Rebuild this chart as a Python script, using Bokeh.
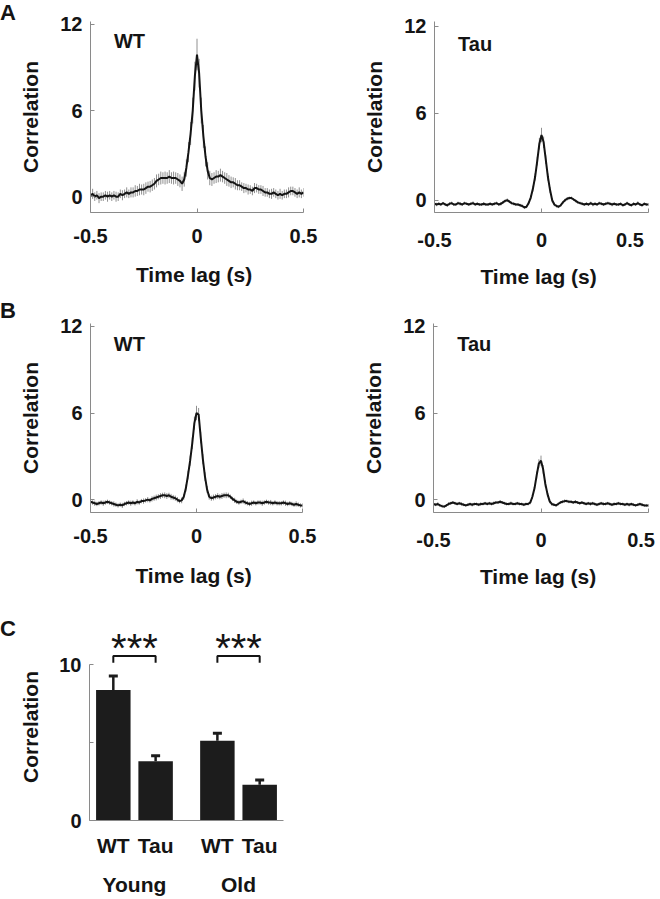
from bokeh.plotting import figure
from bokeh.layouts import column, row
from bokeh.models import FixedTicker, Label, FactorRange, ColumnDataSource, Range1d, Div
from bokeh.embed import file_html
from bokeh.resources import INLINE
from bokeh.core.properties import value

# ---------------- data ----------------
lags = [round(-0.5 + 0.01 * i, 2) for i in range(101)]  # time lag (s)

young_wt_corr = [
    0.1, 0.2, 0.0, 0.1, -0.1, 0.0, 0.0, 0.1, 0.0, 0.1,
    0.0, 0.1, 0.0, 0.0, 0.2, 0.1, 0.2, 0.3, 0.2, 0.3,
    0.3, 0.4, 0.4, 0.5, 0.5, 0.5, 0.6, 0.7, 0.7, 0.8,
    0.9, 1.1, 1.2, 1.3, 1.3, 1.3, 1.3, 1.4, 1.3, 1.3,
    1.3, 1.2, 1.1, 0.9, 1.2, 2.0, 3.1, 4.4, 6.0, 8.4,
    9.9, 8.6, 6.0, 4.2, 2.8, 1.8, 1.3, 1.2, 1.3, 1.4,
    1.4, 1.5, 1.4, 1.3, 1.2, 1.1, 1.0, 1.0, 0.9, 0.8,
    0.8, 0.7, 0.6, 0.6, 0.5, 0.5, 0.4, 0.6, 0.6, 0.5,
    0.5, 0.4, 0.3, 0.3, 0.2, 0.2, 0.3, 0.2, 0.1, 0.2,
    0.1, 0.2, 0.2, 0.3, 0.4, 0.4, 0.3, 0.2, 0.3, 0.2,
    0.3]
young_wt_sem = [
    0.3, 0.35, 0.3, 0.3, 0.35, 0.3, 0.3, 0.3, 0.35, 0.3,
    0.3, 0.3, 0.35, 0.3, 0.3, 0.35, 0.3, 0.35, 0.3, 0.35,
    0.35, 0.4, 0.35, 0.4, 0.35, 0.4, 0.4, 0.35, 0.4, 0.4,
    0.4, 0.45, 0.4, 0.45, 0.4, 0.45, 0.4, 0.45, 0.4, 0.45,
    0.4, 0.45, 0.45, 0.5, 0.5, 0.6, 0.7, 0.8, 0.9, 1.0,
    1.1, 1.0, 0.9, 0.8, 0.7, 0.6, 0.5, 0.45, 0.4, 0.45,
    0.4, 0.45, 0.4, 0.4, 0.45, 0.4, 0.4, 0.35, 0.4, 0.35,
    0.35, 0.3, 0.35, 0.3, 0.35, 0.3, 0.3, 0.35, 0.3, 0.3,
    0.3, 0.35, 0.3, 0.3, 0.3, 0.35, 0.3, 0.3, 0.3, 0.35,
    0.3, 0.3, 0.3, 0.35, 0.3, 0.3, 0.3, 0.3, 0.35, 0.3,
    0.3]

young_tau_corr = [
    -0.25, -0.3, -0.25, -0.3, -0.2, -0.3, -0.35, -0.25, -0.2, -0.3,
    -0.3, -0.2, -0.25, -0.3, -0.2, -0.25, -0.3, -0.25, -0.2, -0.3,
    -0.25, -0.3, -0.3, -0.25, -0.3, -0.3, -0.25, -0.3, -0.25, -0.2,
    -0.3, -0.25, -0.15, -0.05, 0.0, -0.1, -0.2, -0.25, -0.3, -0.3,
    -0.35, -0.4, -0.5, -0.45, -0.2, 0.2, 0.8, 1.6, 2.7, 3.9,
    4.5, 4.0, 2.8, 1.6, 0.7, 0.0, -0.3, -0.4, -0.45, -0.35,
    -0.15, 0.0, 0.1, 0.15, 0.15, 0.05, -0.05, -0.15, -0.2, -0.25,
    -0.3, -0.25, -0.3, -0.2, -0.3, -0.25, -0.3, -0.2, -0.25, -0.3,
    -0.25, -0.2, -0.25, -0.3, -0.25, -0.3, -0.3, -0.25, -0.35, -0.3,
    -0.2, -0.3, -0.35, -0.25, -0.3, -0.2, -0.3, -0.35, -0.25, -0.3,
    -0.3]
young_tau_sem = [
    0.1, 0.12, 0.1, 0.1, 0.08, 0.1, 0.12, 0.1, 0.1, 0.1,
    0.1, 0.1, 0.12, 0.1, 0.1, 0.08, 0.1, 0.1, 0.12, 0.1,
    0.1, 0.1, 0.1, 0.12, 0.1, 0.1, 0.1, 0.08, 0.1, 0.1,
    0.1, 0.12, 0.1, 0.1, 0.12, 0.1, 0.1, 0.1, 0.1, 0.1,
    0.1, 0.1, 0.1, 0.1, 0.12, 0.15, 0.2, 0.25, 0.3, 0.4,
    0.5, 0.4, 0.3, 0.25, 0.2, 0.15, 0.12, 0.1, 0.1, 0.1,
    0.1, 0.1, 0.12, 0.1, 0.1, 0.1, 0.1, 0.1, 0.1, 0.1,
    0.1, 0.1, 0.1, 0.1, 0.12, 0.1, 0.1, 0.1, 0.1, 0.1,
    0.1, 0.1, 0.1, 0.12, 0.1, 0.1, 0.1, 0.1, 0.1, 0.1,
    0.1, 0.1, 0.1, 0.1, 0.1, 0.12, 0.1, 0.1, 0.1, 0.1,
    0.1]

old_wt_corr = [
    -0.15, -0.2, -0.25, -0.3, -0.25, -0.2, -0.25, -0.2, -0.15, -0.2,
    -0.25, -0.3, -0.35, -0.4, -0.35, -0.4, -0.3, -0.25, -0.2, -0.25,
    -0.2, -0.25, -0.15, -0.2, -0.1, -0.1, -0.05, 0.0, -0.05, 0.05,
    0.1, 0.15, 0.2, 0.25, 0.3, 0.3, 0.25, 0.3, 0.2, 0.15,
    0.1, 0.0, -0.1, -0.05, 0.2, 0.8, 1.7, 2.7, 3.9, 5.3,
    6.0, 5.9, 4.3, 2.8, 1.6, 0.7, 0.2, 0.1, 0.15, 0.2,
    0.25, 0.2, 0.25, 0.3, 0.3, 0.3, 0.2, 0.05, -0.05, -0.15,
    -0.2, -0.15, -0.1, -0.2, -0.25, -0.3, -0.25, -0.2, -0.25, -0.2,
    -0.2, -0.25, -0.2, -0.15, -0.2, -0.2, -0.25, -0.2, -0.25, -0.25,
    -0.25, -0.2, -0.25, -0.3, -0.25, -0.3, -0.35, -0.3, -0.35, -0.4,
    -0.4]
old_wt_sem = [
    0.15, 0.15, 0.18, 0.15, 0.15, 0.15, 0.18, 0.15, 0.15, 0.15,
    0.15, 0.18, 0.15, 0.15, 0.15, 0.18, 0.15, 0.15, 0.15, 0.18,
    0.15, 0.15, 0.18, 0.15, 0.15, 0.18, 0.15, 0.18, 0.15, 0.18,
    0.18, 0.2, 0.18, 0.2, 0.18, 0.2, 0.2, 0.18, 0.2, 0.18,
    0.18, 0.18, 0.15, 0.2, 0.2, 0.25, 0.3, 0.35, 0.4, 0.45,
    0.5, 0.45, 0.4, 0.35, 0.3, 0.25, 0.2, 0.18, 0.2, 0.18,
    0.2, 0.18, 0.2, 0.18, 0.2, 0.18, 0.15, 0.15, 0.18, 0.15,
    0.15, 0.15, 0.18, 0.15, 0.15, 0.15, 0.18, 0.15, 0.15, 0.15,
    0.15, 0.18, 0.15, 0.15, 0.15, 0.18, 0.15, 0.15, 0.15, 0.15,
    0.15, 0.15, 0.18, 0.15, 0.15, 0.15, 0.15, 0.18, 0.15, 0.15,
    0.15]

old_tau_corr = [
    -0.3, -0.35, -0.3, -0.4, -0.45, -0.48, -0.4, -0.3, -0.25, -0.2,
    -0.25, -0.3, -0.25, -0.3, -0.35, -0.4, -0.35, -0.3, -0.35, -0.3,
    -0.3, -0.35, -0.3, -0.3, -0.25, -0.3, -0.25, -0.3, -0.25, -0.2,
    -0.2, -0.15, -0.2, -0.25, -0.3, -0.3, -0.25, -0.3, -0.3, -0.25,
    -0.3, -0.3, -0.35, -0.3, -0.3, -0.2, 0.2, 0.8, 1.7, 2.5,
    2.7, 2.1, 1.1, 0.4, -0.1, -0.3, -0.35, -0.4, -0.3, -0.2,
    -0.15, -0.1, -0.1, -0.15, -0.15, -0.2, -0.15, -0.2, -0.25, -0.2,
    -0.25, -0.3, -0.25, -0.3, -0.25, -0.3, -0.35, -0.3, -0.25, -0.3,
    -0.3, -0.25, -0.3, -0.35, -0.3, -0.3, -0.25, -0.3, -0.3, -0.35,
    -0.3, -0.35, -0.3, -0.35, -0.4, -0.35, -0.3, -0.35, -0.4, -0.4,
    -0.4]
old_tau_sem = [
    0.1, 0.1, 0.12, 0.1, 0.1, 0.1, 0.1, 0.12, 0.1, 0.1,
    0.1, 0.1, 0.1, 0.12, 0.1, 0.1, 0.1, 0.1, 0.12, 0.1,
    0.1, 0.1, 0.12, 0.1, 0.1, 0.1, 0.1, 0.1, 0.12, 0.1,
    0.1, 0.12, 0.1, 0.1, 0.1, 0.1, 0.12, 0.1, 0.1, 0.1,
    0.1, 0.1, 0.1, 0.1, 0.1, 0.12, 0.15, 0.2, 0.25, 0.3,
    0.35, 0.3, 0.25, 0.2, 0.15, 0.12, 0.1, 0.1, 0.1, 0.1,
    0.1, 0.12, 0.1, 0.1, 0.1, 0.1, 0.12, 0.1, 0.1, 0.1,
    0.1, 0.1, 0.1, 0.12, 0.1, 0.1, 0.1, 0.1, 0.1, 0.12,
    0.1, 0.1, 0.1, 0.1, 0.12, 0.1, 0.1, 0.1, 0.1, 0.1,
    0.1, 0.12, 0.1, 0.1, 0.1, 0.1, 0.1, 0.12, 0.1, 0.1,
    0.1]

time_ticks = [-0.5, 0, 0.5]
corr_ticks = [0, 6, 12]

bar_groups = ["Young", "Young", "Old", "Old"]
bar_genotypes = ["WT", "Tau", "WT", "Tau"]
bar_means = [8.37, 3.8, 5.12, 2.29]
bar_sems = [0.91, 0.35, 0.48, 0.31]
bar_ticks = [0, 5, 10]
sig_groups = ["Young", "Old"]
sig_text = ["***", "***"]

FONT = "Liberation Sans"
INK = "#141414"
AXIS = "#8a8a8a"
NBSP = "\u00a0"
LETTER_W = 16


def style(p):
    p.grid.visible = False
    p.outline_line_color = None
    p.background_fill_color = "white"
    p.border_fill_color = "white"
    for ax in p.axis:
        ax.axis_line_color = AXIS
        ax.axis_line_width = 1
        ax.major_tick_line_color = AXIS
        ax.major_tick_in = 4
        ax.major_tick_out = 0
        ax.minor_tick_line_color = None
        ax.major_label_text_font = FONT
        ax.major_label_text_font_style = "bold"
        ax.major_label_text_font_size = "20px"
        ax.major_label_text_color = INK
        ax.axis_label_text_font = FONT
        ax.axis_label_text_font_style = "bold"
        ax.axis_label_text_font_size = "21px"
        ax.axis_label_text_color = INK


def letter_div(text, h, top_gap, w=LETTER_W):
    """Narrow strip that carries a panel letter (A, B, C)."""
    return Div(text=text, width=w, height=h, margin=(0, 0, 0, 0),
               styles={"font-family": FONT, "font-weight": "bold", "font-size": "22px",
                       "line-height": "22px", "color": INK, "padding-top": f"{top_gap}px",
                       "overflow": "visible"})


def corr_panel(corr, sem, name, yr, w, h, bl, br, bt, bb, title_gap, right_pad=0):
    p = figure(width=w, height=h, x_range=Range1d(-0.5, 0.5), y_range=Range1d(*yr), title=None,
               output_backend="svg", toolbar_location=None,
               min_border_left=bl, min_border_right=br, min_border_top=bt, min_border_bottom=bb)
    lower = [c - s for c, s in zip(corr, sem)]
    upper = [c + s for c, s in zip(corr, sem)]
    p.segment(x0=lags, y0=lower, x1=lags, y1=upper, line_color="#909090", line_width=1)
    p.line(lags, corr, line_color=INK, line_width=2)
    style(p)
    p.xaxis.ticker = FixedTicker(ticks=time_ticks)
    p.yaxis.ticker = FixedTicker(ticks=corr_ticks)
    p.xaxis.major_label_overrides = {-0.5: "-0.5", 0: "0", 0.5: "0.5" + NBSP * right_pad}
    p.xaxis.major_label_standoff = 16
    p.yaxis.major_label_standoff = 8
    p.xaxis.axis_label_standoff = title_gap
    p.yaxis.axis_label_standoff = 15
    p.yaxis.axis_label_text_line_height = 0.8
    p.xaxis.axis_label = "Time  lag (s)"
    p.yaxis.axis_label = "Correlation"
    p.add_layout(Label(x=-0.39, y=10.05, text=name, text_font=FONT, text_font_style="bold",
                       text_font_size="20px", text_color=INK))
    return p


LW = 330 - LETTER_W          # width of the left-column figures
BL = 89 - LETTER_W           # left border so that the frame starts at x = 89

pA1 = corr_panel(young_wt_corr, young_wt_sem, "WT", (-1.1, 12.2), LW, 290, BL, 27, 21, 76, 17)
pA2 = corr_panel(young_tau_corr, young_tau_sem, "Tau", (-0.85, 12.34), 330, 290, 104, 12, 21, 76, 11,
                 right_pad=3)
pB1 = corr_panel(old_wt_corr, old_wt_sem, "WT", (-0.89, 12.2), LW, 300, BL, 28, 33, 75, 18)
pB2 = corr_panel(old_tau_corr, old_tau_sem, "Tau", (-0.89, 12.2), 330, 300, 103, 12, 33, 75, 11,
                 right_pad=1)

# ---------------- panel C ----------------
factors = list(zip(bar_groups, bar_genotypes))
xr = FactorRange(*factors, factor_padding=0.0, group_padding=0.46,
                 range_padding=0.063, range_padding_units="absolute")
pC = figure(width=LW, height=308, x_range=xr, y_range=Range1d(0, 12), title=None,
            output_backend="svg", toolbar_location=None,
            min_border_left=BL, min_border_right=47, min_border_top=43, min_border_bottom=66)
src = ColumnDataSource(dict(x=factors, top=bar_means,
                            upper=[m + s for m, s in zip(bar_means, bar_sems)]))
pC.vbar(x="x", top="top", width=0.815, source=src, fill_color="#1c1c1c", line_color=None)
pC.segment(x0="x", y0="top", x1="x", y1="upper", source=src, line_color="#1c1c1c", line_width=2.5)
pC.scatter(x="x", y="upper", marker="dash", size=9, line_width=3, line_color="#1c1c1c", source=src)
for g, s in zip(sig_groups, sig_text):
    pC.line(x=[(g, "WT"), (g, "WT"), (g, "Tau"), (g, "Tau")], y=[10.12, 10.55, 10.55, 10.12],
            line_color=INK, line_width=2)
    pC.text(x=[g], y=[11.05], text=[s], text_align="center", text_baseline="alphabetic",
            text_font=value(FONT), text_font_size=value("40px"), text_color=INK)
style(pC)
pC.yaxis.ticker = FixedTicker(ticks=bar_ticks)
pC.yaxis.major_label_overrides = {5: ""}
pC.yaxis.bounds = (0, 10)
pC.yaxis.major_label_standoff = 8
pC.yaxis.axis_label = "Correlation"
pC.yaxis.axis_label_standoff = 14
pC.yaxis.axis_label_text_line_height = 0.8
pC.xaxis.major_tick_in = 0
pC.xaxis.major_tick_out = 0
pC.xaxis.major_label_standoff = 13
pC.xaxis.major_label_text_font_size = "21px"
pC.xaxis.group_text_font = FONT
pC.xaxis.group_text_font_style = "bold"
pC.xaxis.group_text_font_size = "21px"
pC.xaxis.group_text_color = INK
pC.xaxis.separator_line_color = None

layout = column(
    row(letter_div("A", 290, 2), pA1, pA2),
    row(letter_div("B", 300, 10), pB1, pB2),
    row(letter_div("C", 308, 28), pC),
)
open("out.html", "w").write(file_html(layout, INLINE))
